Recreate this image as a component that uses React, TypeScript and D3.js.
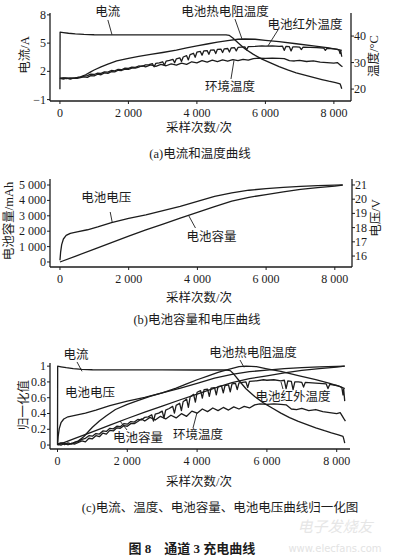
import React from "react";
import * as d3 from "d3";

type P = [number, number];

// ---------- shared axis ticks ----------
const sampleTicks = [0, 2000, 4000, 6000, 8000];
const sampleTickLabels = ["0", "2 000", "4 000", "6 000", "8 000"];
const currentTicks = [-1, 2, 5, 8];
const currentTickLabels = ["\u22121", "2", "5", "8"];
const tempTicks = [20, 30, 40];
const tempTickLabels = ["20", "30", "40"];
const capacityTicks = [0, 1000, 2000, 3000, 4000, 5000];
const capacityTickLabels = ["0", "1 000", "2 000", "3 000", "4 000", "5 000"];
const voltageTicks = [16, 17, 18, 19, 20, 21];
const voltageTickLabels = ["16", "17", "18", "19", "20", "21"];
const normTicks = [0, 0.2, 0.4, 0.6, 0.8, 1];
const normTickLabels = ["0", "0.2", "0.4", "0.6", "0.8", "1"];

// ---------- series (sample index, value) ----------
const currentA: P[] = [
  [0, 0.1], [5, 6.17], [100, 6.12], [250, 6.05], [450, 5.98], [700, 5.92], [1000, 5.89],
  [2000, 5.88], [3000, 5.88], [4000, 5.87], [4850, 5.87], [4950, 5.82], [5050, 5.55],
  [5200, 5.05], [5400, 4.4], [5650, 3.8], [5900, 3.3], [6150, 2.9], [6400, 2.5],
  [6650, 2.15], [6900, 1.85], [7150, 1.6], [7400, 1.35], [7650, 1.12], [7850, 0.95],
  [8050, 0.8], [8180, 0.68], [8200, 0.5], [8230, 0.15],
];

const thermistorT: P[] = [
  [0, 24.0], [150, 24.2], [300, 23.9], [450, 24.2], [600, 24.6], [750, 25.4], [900, 26.5],
  [1000, 27.2], [1200, 28.4], [1400, 29.4], [1660, 30.6], [2000, 31.6], [2300, 32.3],
  [2650, 33.1], [3000, 33.8], [3400, 34.7], [3700, 35.5], [4000, 36.3], [4300, 37.0],
  [4600, 37.7], [4900, 38.3], [5200, 38.8], [5400, 38.9], [5700, 38.8], [6000, 38.4],
  [6400, 37.9], [6900, 37.1], [7400, 36.3], [7800, 35.6], [8100, 35.0], [8230, 34.6],
];

const infraredT: P[] = [
  [0, 24.0], [100, 24.2], [200, 23.9], [300, 24.2], [400, 24.0], [500, 24.3], [600, 24.5],
  [700, 24.9], [800, 25.1], [900, 25.6], [1000, 25.5], [1100, 26.0], [1200, 25.9],
  [1300, 26.5], [1400, 26.4], [1500, 27.0], [1600, 26.9], [1700, 27.4], [1800, 27.3],
  [1900, 27.9], [2000, 27.8], [2100, 28.3], [2200, 28.2], [2300, 28.7], [2400, 28.6],
  [2500, 29.1], [2600, 29.2], [2700, 29.6], [2750, 28.4], [2800, 29.7], [2900, 29.9],
  [3000, 30.3], [3050, 29.0], [3100, 30.5], [3200, 30.8], [3300, 31.2], [3350, 29.9],
  [3400, 31.4], [3500, 31.8], [3550, 30.4], [3600, 32.1], [3700, 32.6], [3750, 31.0],
  [3800, 33.0], [3900, 33.5], [3950, 32.0], [4000, 33.9], [4100, 34.2], [4150, 32.8],
  [4200, 34.4], [4300, 34.5], [4350, 33.1], [4400, 34.7], [4500, 34.8], [4550, 33.4],
  [4600, 35.0], [4700, 35.1], [4750, 33.8], [4800, 35.2], [4900, 35.3], [4950, 34.0],
  [5000, 35.5], [5100, 35.6], [5150, 34.4], [5200, 35.7], [5300, 35.8], [5400, 35.9],
  [5450, 34.8], [5500, 36.0], [5700, 36.1], [5900, 36.3], [6000, 36.2], [6200, 36.3],
  [6400, 36.1], [6500, 36.2], [6550, 34.6], [6600, 36.1], [6700, 36.0], [6750, 34.4],
  [6800, 35.9], [6900, 35.9], [7000, 35.8], [7050, 34.9], [7100, 35.8], [7300, 35.7],
  [7500, 35.6], [7700, 35.5], [7750, 34.6], [7800, 35.4], [8000, 35.2], [8100, 35.0],
  [8150, 34.7], [8180, 33.4], [8200, 34.5], [8230, 32.2],
];

const ambientT: P[] = [
  [0, 24.0], [100, 23.8], [200, 24.1], [300, 23.9], [400, 24.1], [500, 24.0], [600, 24.3],
  [700, 24.6], [800, 24.4], [900, 25.1], [1000, 25.0], [1100, 25.6], [1200, 25.4],
  [1300, 26.1], [1400, 25.9], [1500, 26.6], [1600, 26.5], [1700, 27.1], [1800, 27.0],
  [1900, 27.5], [2000, 27.4], [2100, 27.9], [2200, 27.9], [2300, 28.3], [2400, 28.8],
  [2500, 28.4], [2650, 29.1], [2800, 28.6], [2950, 29.3], [3100, 28.8], [3250, 29.5],
  [3400, 29.0], [3550, 29.8], [3700, 29.3], [3850, 30.3], [4000, 29.9], [4150, 30.7],
  [4300, 30.2], [4450, 30.9], [4600, 30.4], [4750, 31.0], [4900, 30.5], [5050, 31.1],
  [5200, 30.7], [5350, 31.2], [5500, 30.9], [5650, 31.5], [5800, 31.7], [6000, 31.6],
  [6200, 31.7], [6400, 31.6], [6550, 31.5], [6700, 30.7], [6850, 30.6], [7000, 30.8],
  [7200, 30.4], [7400, 30.6], [7600, 30.2], [7800, 30.0], [8000, 29.8], [8100, 30.0],
  [8200, 28.9], [8250, 28.4],
];

const capacityMah: P[] = [
  [0, 0], [500, 420], [1000, 840], [1500, 1260], [2000, 1680], [2500, 2080], [3000, 2460],
  [3500, 2850], [4000, 3220], [4500, 3600], [5000, 3950], [5500, 4200], [6000, 4380],
  [6500, 4560], [7000, 4720], [7500, 4830], [8000, 4930], [8230, 4990],
];

const voltageV: P[] = [
  [0, 15.7], [20, 16.3], [50, 16.8], [100, 17.2], [180, 17.45], [300, 17.6], [500, 17.7],
  [800, 17.85], [1100, 18.05], [1500, 18.35], [2000, 18.65], [2500, 18.9], [3000, 19.2],
  [3500, 19.5], [4000, 19.85], [4500, 20.2], [5000, 20.45], [5500, 20.63], [6000, 20.74],
  [6500, 20.83], [7000, 20.9], [7500, 20.95], [8000, 20.99], [8230, 21.0],
];

// ---------- normalisation for panel (c) ----------
const maxCurrent = d3.max(currentA, (d) => d[1]) as number;
const allTemps = [...thermistorT, ...infraredT, ...ambientT].map((d) => d[1]);
const tMin = d3.min(allTemps) as number;
const tMax = d3.max(allTemps) as number;
const maxCap = d3.max(capacityMah, (d) => d[1]) as number;
const vMin = d3.min(voltageV, (d) => d[1]) as number;
const vMax = d3.max(voltageV, (d) => d[1]) as number;
const normCurrent: P[] = currentA.map((d) => [d[0], d[1] / maxCurrent]);
const normThermistor: P[] = thermistorT.map((d) => [d[0], (d[1] - tMin) / (tMax - tMin)]);
const normInfrared: P[] = infraredT.map((d) => [d[0], (d[1] - tMin) / (tMax - tMin)]);
const normAmbient: P[] = ambientT.map((d) => [d[0], (d[1] - tMin) / (tMax - tMin)]);
const normCapacity: P[] = capacityMah.map((d) => [d[0], d[1] / maxCap]);
const normVoltage: P[] = voltageV.map((d) => [d[0], (d[1] - vMin) / (vMax - vMin)]);

// ---------- styling ----------
const SERIF = "'Liberation Serif','Noto Sans CJK SC',serif";
const INK = "#1c1c1c";
const TICK_FS = 12;
const LABEL_FS = 12.5;

type Scale = d3.ScaleLinear<number, number>;

function path(data: P[], x: Scale, y: Scale): string {
  return d3.line<P>().x((d) => x(d[0])).y((d) => y(d[1]))(data) || "";
}

function Curve({ data, x, y }: { data: P[]; x: Scale; y: Scale }) {
  return <path d={path(data, x, y)} fill="none" stroke={INK} strokeWidth={1.3} strokeLinejoin="round" />;
}

function LeftAxis({ y, x0, ticks, labels }: { y: Scale; x0: number; ticks: number[]; labels: string[] }) {
  const [r0, r1] = y.range();
  return (
    <g>
      <line x1={x0} x2={x0} y1={r0} y2={r1} stroke={INK} strokeWidth={1.3} />
      {ticks.map((t, i) => (
        <g key={i}>
          <line x1={x0 - 3} x2={x0} y1={y(t)} y2={y(t)} stroke={INK} strokeWidth={1} />
          <text x={x0 - 4} y={y(t)} textAnchor="end" dominantBaseline="central" fontSize={TICK_FS} fontFamily={SERIF} fill={INK}>
            {labels[i]}
          </text>
        </g>
      ))}
    </g>
  );
}

function RightAxis({ y, x0, ticks, labels }: { y: Scale; x0: number; ticks: number[]; labels: string[] }) {
  const [r0, r1] = y.range();
  return (
    <g>
      <line x1={x0} x2={x0} y1={r0} y2={r1} stroke={INK} strokeWidth={1.3} />
      {ticks.map((t, i) => (
        <g key={i}>
          <line x1={x0} x2={x0 + 3} y1={y(t)} y2={y(t)} stroke={INK} strokeWidth={1} />
          <text x={x0 + 3} y={y(t)} textAnchor="start" dominantBaseline="central" fontSize={TICK_FS} fontFamily={SERIF} fill={INK}>
            {labels[i]}
          </text>
        </g>
      ))}
    </g>
  );
}

function BottomAxis({ x, y0 }: { x: Scale; y0: number }) {
  const [r0, r1] = x.range();
  return (
    <g>
      <line x1={r0} x2={r1} y1={y0} y2={y0} stroke={INK} strokeWidth={1.3} />
      {sampleTicks.map((t, i) => (
        <g key={i}>
          <line x1={x(t)} x2={x(t)} y1={y0} y2={y0 + 3} stroke={INK} strokeWidth={1} />
          <text x={x(t)} y={y0 + 11.5} textAnchor="middle" dominantBaseline="central" fontSize={TICK_FS} fontFamily={SERIF} fill={INK}>
            {sampleTickLabels[i]}
          </text>
        </g>
      ))}
    </g>
  );
}

function Label({ x, y, text, rotate = 0, size = LABEL_FS, anchor = "middle", weight = 400 }: any) {
  return (
    <text
      x={x}
      y={y}
      textAnchor={anchor}
      dominantBaseline="central"
      fontSize={size}
      fontWeight={weight}
      fontFamily={SERIF}
      fill={INK}
      transform={rotate ? `rotate(${rotate} ${x} ${y})` : undefined}
    >
      {text}
    </text>
  );
}

function Leader({ x1, y1, x2, y2 }: { x1: number; y1: number; x2: number; y2: number }) {
  return <line x1={x1} y1={y1} x2={x2} y2={y2} stroke={INK} strokeWidth={0.9} />;
}

export default function App() {
  // panel (a)
  const xA = d3.scaleLinear().domain([-290, 8500]).range([50, 351]);
  const yA = d3.scaleLinear().domain([-1.15, 8.2]).range([101, 13]);
  const yAT = d3.scaleLinear().domain([15.5, 48.7]).range([101, 13]);
  // panel (b)
  const xB = d3.scaleLinear().domain([-290, 8500]).range([50, 352]);
  const yB = d3.scaleLinear().domain([-325, 5390]).range([267, 179]);
  const yBV = d3.scaleLinear().domain([15.23, 21.42]).range([267, 179]);
  // panel (c)
  const xC = d3.scaleLinear().domain([-215, 8381]).range([50, 350]);
  const yC = d3.scaleLinear().domain([-0.05, 1.04]).range([449, 363]);

  return (
    <svg
      width={394}
      height={559}
      viewBox="0 0 394 559"
      style={{ position: "absolute", left: 0, top: 0, background: "#ffffff" }}
    >
      <rect x={0} y={0} width={394} height={559} fill="#ffffff" />

      {/* ---------- (a) ---------- */}
      <Curve data={currentA} x={xA} y={yA} />
      <Curve data={thermistorT} x={xA} y={yAT} />
      <Curve data={infraredT} x={xA} y={yAT} />
      <Curve data={ambientT} x={xA} y={yAT} />
      <LeftAxis y={yA} x0={50} ticks={currentTicks} labels={currentTickLabels} />
      <RightAxis y={yAT} x0={351} ticks={tempTicks} labels={tempTickLabels} />
      <BottomAxis x={xA} y0={101} />
      <Label x={25} y={55} text="电流/A" rotate={-90} />
      <Label x={374} y={56} text="温度/°C" rotate={-90} />
      <Label x={199} y={128} text="采样次数/次" />
      <Label x={200} y={154} text="(a)电流和温度曲线" />
      <Label x={xA(1400)} y={yA(8.31)} text="电流" />
      <Leader x1={xA(1400)} y1={yA(7.46)} x2={xA(1520)} y2={yA(5.9)} />
      <Label x={xA(4820)} y={yAT(49.1)} text="电池热电阻温度" />
      <Leader x1={xA(5112)} y1={yAT(46.4)} x2={xA(5317)} y2={yAT(38.9)} />
      <Label x={xA(7157)} y={yAT(44.2)} text="电池红外温度" />
      <Leader x1={xA(6368)} y1={yAT(42.3)} x2={xA(6076)} y2={yAT(36.3)} />
      <Label x={xA(4966)} y={yAT(20.8)} text="环境温度" />
      <Leader x1={xA(4995)} y1={yAT(23.8)} x2={xA(5083)} y2={yAT(30.8)} />

      {/* ---------- (b) ---------- */}
      <Curve data={capacityMah} x={xB} y={yB} />
      <Curve data={voltageV} x={xB} y={yBV} />
      <LeftAxis y={yB} x0={50} ticks={capacityTicks} labels={capacityTickLabels} />
      <RightAxis y={yBV} x0={352} ticks={voltageTicks} labels={voltageTickLabels} />
      <BottomAxis x={xB} y0={267} />
      <Label x={9} y={221} text="电池容量/mAh" rotate={-90} />
      <Label x={376} y={218} text="电压/V" rotate={-90} />
      <Label x={199} y={298} text="采样次数/次" />
      <Label x={197} y={320} text="(b)电池容量和电压曲线" />
      <Label x={xB(1345)} y={yB(4156)} text="电池电压" />
      <Leader x1={xB(1462)} y1={yB(3247)} x2={xB(1521)} y2={yBV(18.37)} />
      <Label x={xB(4412)} y={yB(1623)} text="电池容量" />
      <Leader x1={xB(3944)} y1={yB(2208)} x2={xB(3740)} y2={yB(3040)} />

      {/* ---------- (c) ---------- */}
      <Curve data={normCurrent} x={xC} y={yC} />
      <Curve data={normVoltage} x={xC} y={yC} />
      <Curve data={normCapacity} x={xC} y={yC} />
      <Curve data={normThermistor} x={xC} y={yC} />
      <Curve data={normInfrared} x={xC} y={yC} />
      <Curve data={normAmbient} x={xC} y={yC} />
      <LeftAxis y={yC} x0={50} ticks={normTicks} labels={normTickLabels} />
      <BottomAxis x={xC} y0={449} />
      <Label x={24} y={405} text="归一化值" rotate={-90} />
      <Label x={199} y={482} text="采样次数/次" />
      <Label x={220} y={508} text="(c)电流、温度、电池容量、电池电压曲线归一化图" />
      <Label x={xC(530)} y={yC(1.141)} text="电流" />
      <Leader x1={xC(559)} y1={yC(1.053)} x2={xC(702)} y2={yC(0.935)} />
      <Label x={xC(931)} y={yC(0.66)} text="电池电压" />
      <Label x={xC(2306)} y={yC(0.089)} text="电池容量" />
      <Leader x1={xC(1991)} y1={yC(0.191)} x2={xC(1791)} y2={yC(0.305)} />
      <Label x={xC(4026)} y={yC(0.127)} text="环境温度" />
      <Leader x1={xC(3882)} y1={yC(0.216)} x2={xC(3997)} y2={yC(0.41)} />
      <Label x={xC(5602)} y={yC(1.167)} text="电池热电阻温度" />
      <Leader x1={xC(5229)} y1={yC(1.078)} x2={xC(5344)} y2={yC(0.985)} />
      <Label x={xC(6748)} y={yC(0.609)} text="电池红外温度" />
      <Leader x1={xC(6461)} y1={yC(0.71)} x2={xC(6404)} y2={yC(0.8)} />

      {/* ---------- figure title ---------- */}
      <text x={192} y={548} textAnchor="middle" dominantBaseline="central" fontSize={13} fontWeight={700} fontFamily={SERIF} fill={INK} xmlSpace="preserve">
        {"图 8    通道 3 充电曲线"}
      </text>
      <text x={335} y={527} textAnchor="middle" dominantBaseline="central" fontSize={15} fontFamily={SERIF} fill="#e6e6e6" fontStyle="italic">
        电子发烧友
      </text>
      <text x={335} y={548} textAnchor="middle" dominantBaseline="central" fontSize={10} fontFamily="'DejaVu Sans',sans-serif" fill="#e3e3e3">
        www.elecfans.com
      </text>
    </svg>
  );
}
